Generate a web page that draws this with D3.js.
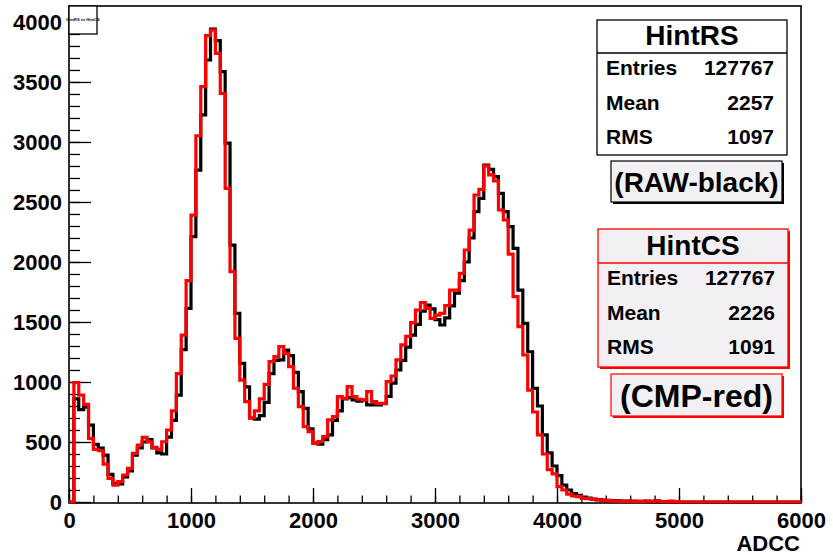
<!DOCTYPE html>
<html>
<head>
<meta charset="utf-8">
<script src="https://cdn.jsdelivr.net/npm/d3@7"></script>
<style>
body { margin: 0; background: #fff; }
svg text { font-family: "Liberation Sans", Arial, sans-serif; font-weight: bold; }
</style>
</head>
<body>
<script>
const width = 833;
const height = 555;

// histogram: 150 bins of 40 ADC counts, 0..6000
const binWidth = 40;

// RAW (black) bin contents
const rawCounts = [
    0, 860, 770, 790, 640, 480, 450, 390, 230, 155,
    150, 210, 260, 390, 450, 500, 520, 450, 410, 400,
    540, 680, 891, 1270, 1613, 2211, 2766, 3225, 3683, 3941,
    3844, 3586, 2991, 2141, 1572, 1155, 960, 700, 690, 720,
    830, 1070, 1180, 1185, 1265, 1220, 1080, 920, 780, 610,
    490, 483, 520, 560, 680, 760, 860, 870, 850, 840,
    850, 810, 810, 810, 820, 880, 990, 1100, 1180, 1290,
    1390, 1480, 1590, 1640, 1610, 1520, 1475, 1535, 1635, 1740,
    1845, 2000, 2200, 2420, 2530, 2808, 2772, 2711, 2572, 2420,
    2294, 2113, 1766, 1488, 1252, 947, 800, 560, 410, 300,
    220, 140, 100, 70, 55, 40, 32, 25, 20, 16,
    14, 12, 10, 8, 8, 6, 5, 6, 4, 3,
    5, 2, 3, 2, 1, 0, 0, 0, 0, 0,
    0, 0, 0, 0, 0, 0, 0, 0, 0, 0,
    0, 0, 0, 0, 0, 0, 0, 0, 0, 0
];

// CMP (red) bin contents
const cmpCounts = [
    0, 994, 891, 814, 530, 439, 427, 316, 197, 141,
    169, 225, 280, 405, 475, 539, 502, 455, 439, 502,
    600, 760, 1070, 1391, 1844, 2391, 3052, 3461, 3886, 3933,
    3739, 3405, 2614, 1919, 1363, 1016, 836, 700, 760, 860,
    980, 1170, 1211, 1295, 1239, 1128, 948, 795, 628, 586,
    489, 503, 545, 684, 711, 878, 864, 961, 878, 856,
    850, 920, 836, 822, 822, 1003, 1050, 1184, 1310, 1380,
    1495, 1600, 1661, 1614, 1530, 1558, 1572, 1636, 1766, 1766,
    1905, 2100, 2266, 2558, 2605, 2800, 2725, 2675, 2433, 2350,
    2065, 1711, 1461, 1225, 933, 750, 560, 400, 270, 235,
    128, 100, 65, 50, 45, 30, 28, 22, 17, 15,
    12, 10, 8, 6, 5, 8, 5, 4, 10, 5,
    12, 4, 3, 8, 3, 0, 0, 0, 0, 0,
    0, 0, 0, 0, 0, 0, 0, 0, 0, 0,
    0, 0, 0, 0, 0, 0, 0, 0, 0, 0
];

const xTicks = [0, 1000, 2000, 3000, 4000, 5000, 6000];
const yTicks = [0, 500, 1000, 1500, 2000, 2500, 3000, 3500, 4000];

const statsRS = [["Entries", "127767"], ["Mean", "2257"], ["RMS", "1097"]];
const statsCS = [["Entries", "127767"], ["Mean", "2226"], ["RMS", "1091"]];

let svg = d3.select("body").append("svg")
    .attr("width", width)
    .attr("height", height);

let x = d3.scaleLinear().domain([0, 6000]).range([69, 801]);
let y = d3.scaleLinear().domain([0, 4133]).range([502, 6]);

// minor ticks
svg.append("g")
    .attr("transform", "translate(0,503)")
    .call(d3.axisBottom(x).ticks(30).tickSize(-7.5).tickFormat(""))
    .call(g => g.select(".domain").remove());
svg.append("g")
    .attr("transform", "translate(69,0)")
    .call(d3.axisLeft(y).tickValues(d3.range(0, 4101, 100)).tickSize(-11).tickFormat(""))
    .call(g => g.select(".domain").remove());

// major ticks + labels
let xAxis = svg.append("g")
    .attr("transform", "translate(0,503)")
    .call(d3.axisBottom(x).tickValues(xTicks).tickSize(-15).tickPadding(9).tickFormat(d3.format("d")));
xAxis.select(".domain").remove();
xAxis.selectAll("text").attr("font-size", 22).attr("fill", "#000");

let yAxis = svg.append("g")
    .attr("transform", "translate(69,0)")
    .call(d3.axisLeft(y).tickValues(yTicks).tickSize(-22).tickPadding(7).tickFormat(d3.format("d")));
yAxis.select(".domain").remove();
yAxis.selectAll("text").attr("font-size", 22).attr("fill", "#000");

svg.selectAll(".tick line").attr("stroke", "#000").attr("stroke-width", 1.3);

// frame
svg.append("rect")
    .attr("x", 69).attr("y", 6)
    .attr("width", 801 - 69).attr("height", 503 - 6)
    .attr("fill", "none")
    .attr("stroke", "#000")
    .attr("stroke-width", 1.6);

// histograms as step outlines
let histLine = d3.line()
    .x(d => x(d[0]))
    .y(d => y(d[1]))
    .curve(d3.curveStepAfter);

function histPoints(counts) {
    let pts = counts.map((c, i) => [i * binWidth, c]);
    pts.push([counts.length * binWidth, counts[counts.length - 1]]);
    return pts;
}

svg.append("path")
    .attr("d", histLine(histPoints(rawCounts)))
    .attr("fill", "none")
    .attr("stroke", "#000")
    .attr("stroke-width", 3.2);

svg.append("path")
    .attr("d", histLine(histPoints(cmpCounts)))
    .attr("fill", "none")
    .attr("stroke", "#ff0000")
    .attr("stroke-width", 3.2);

// little title box, top left
svg.append("rect")
    .attr("x", 69).attr("y", 6).attr("width", 28).attr("height", 28)
    .attr("fill", "#fff").attr("stroke", "#000").attr("stroke-width", 1.3);
svg.append("text")
    .attr("x", 83).attr("y", 21)
    .attr("text-anchor", "middle")
    .attr("font-size", 4)
    .text("HintRS vs HintCS");

// stats boxes
function statsBox(x0, y0, w, h, headH, title, rows, color, fill, shadow) {
    let g = svg.append("g");
    if (shadow) {
        g.append("rect")
            .attr("x", x0 + 2).attr("y", y0 + 2).attr("width", w).attr("height", h)
            .attr("fill", color);
    }
    g.append("rect")
        .attr("x", x0).attr("y", y0).attr("width", w).attr("height", h)
        .attr("fill", fill).attr("stroke", color).attr("stroke-width", 1.3);
    g.append("line")
        .attr("x1", x0).attr("x2", x0 + w)
        .attr("y1", y0 + headH).attr("y2", y0 + headH)
        .attr("stroke", color).attr("stroke-width", 1.3);
    g.append("text")
        .attr("x", x0 + w / 2).attr("y", y0 + headH - 8)
        .attr("text-anchor", "middle")
        .attr("font-size", 28)
        .text(title);
    rows.forEach((r, i) => {
        let by = y0 + headH + 22 + i * 34.5;
        g.append("text").attr("x", x0 + 9).attr("y", by).attr("font-size", 21).text(r[0]);
        g.append("text").attr("x", x0 + w - 13).attr("y", by)
            .attr("text-anchor", "end").attr("font-size", 21).text(r[1]);
    });
}

function labelBox(x0, y0, w, h, label, size, color) {
    svg.append("rect")
        .attr("x", x0 + 2).attr("y", y0 + 2).attr("width", w).attr("height", h)
        .attr("fill", color);
    svg.append("rect")
        .attr("x", x0).attr("y", y0).attr("width", w).attr("height", h)
        .attr("fill", "#f3f0f3").attr("stroke", color).attr("stroke-width", 1.2);
    svg.append("text")
        .attr("x", x0 + w / 2).attr("y", y0 + h / 2 + size * 0.36)
        .attr("text-anchor", "middle")
        .attr("font-size", size)
        .text(label);
}

statsBox(597, 20, 190, 135, 33, "HintRS", statsRS, "#000", "#fff", false);
labelBox(611, 161, 171, 41, "(RAW-black)", 28, "#000");
statsBox(598, 229, 190, 138, 34, "HintCS", statsCS, "#ff0000", "#f3f0f3", true);
labelBox(611, 374, 171, 42, "(CMP-red)", 32, "#ff0000");

// axis title
svg.append("text")
    .attr("x", 800).attr("y", 551)
    .attr("text-anchor", "end")
    .attr("font-size", 22)
    .text("ADCC");
</script>
</body>
</html>
